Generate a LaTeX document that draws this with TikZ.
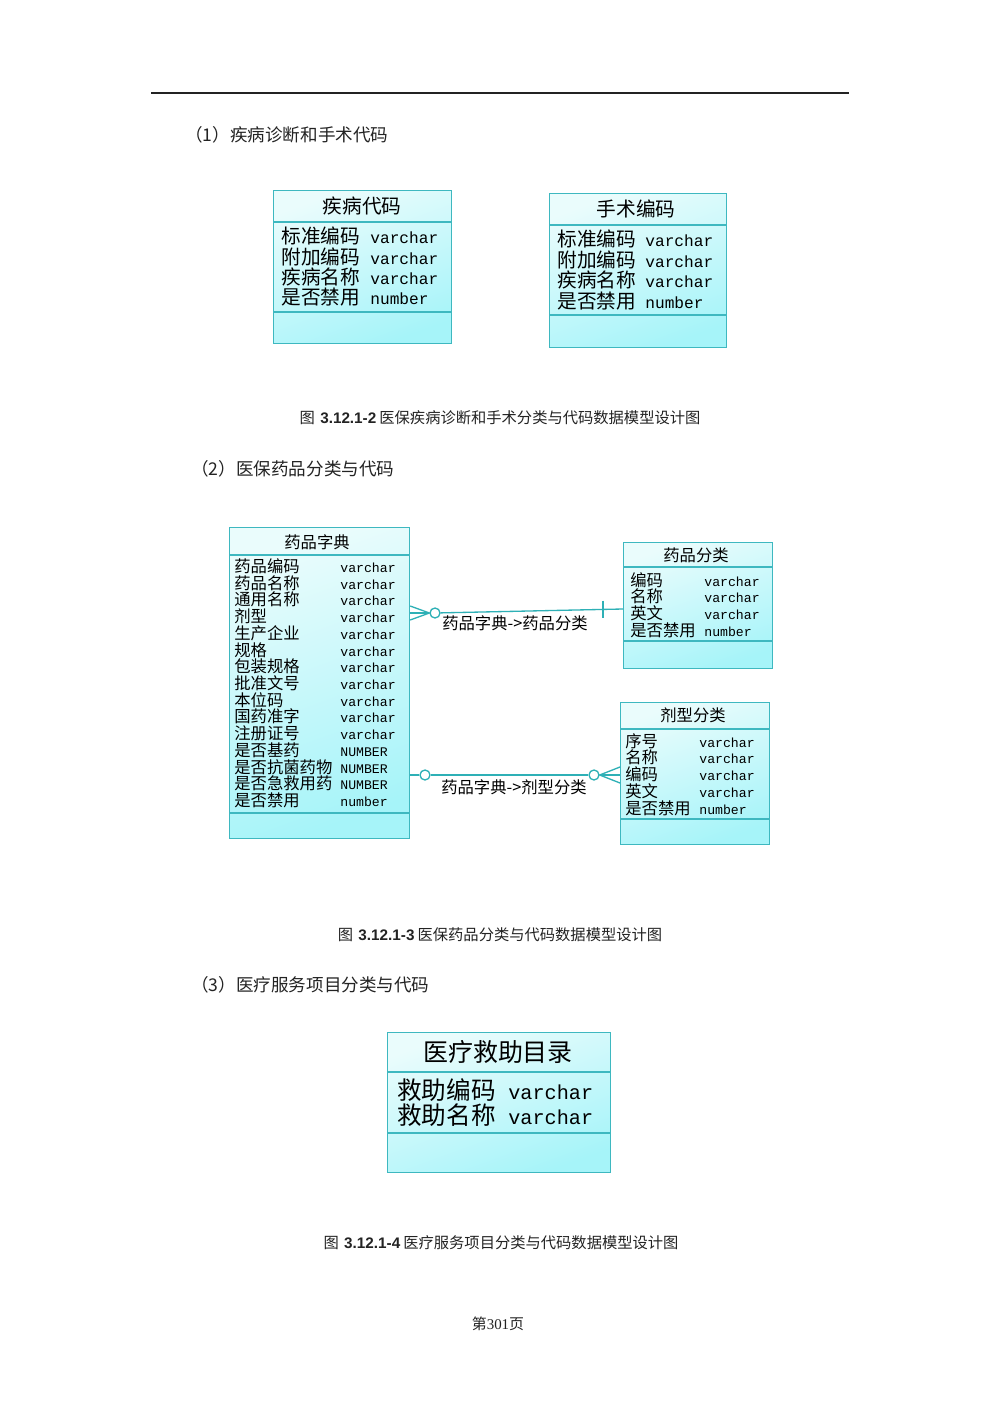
\documentclass[tikz,border=0pt]{standalone}
\usepackage{fontspec}
\setmainfont{Liberation Serif}
\newfontfamily\cjk{Noto Sans CJK SC}
\newfontfamily\mono{Liberation Mono}
\newfontfamily\arial{Liberation Sans}
\usepackage{tikz}

\definecolor{tblline}{RGB}{62,184,192}
\definecolor{tbltop}{RGB}{234,252,252}
\definecolor{tblbot}{RGB}{166,244,249}
\definecolor{relline}{RGB}{46,176,182}
\definecolor{pagetext}{RGB}{35,35,35}

\begin{document}
\begin{tikzpicture}[
        x=0.02cm, y=-0.02cm,
        entity/.style={rectangle, draw=tblline, line width=0.7pt, anchor=north west, inner sep=0pt,
                       top color=tbltop, bottom color=tblbot, shading angle=20},
        divider/.style={draw=tblline, line width=0.7pt},
        title/.style={inner sep=0pt, text=black, font=\cjk\fontsize{#1}{#1}\selectfont},
        field/.style={anchor=base west, inner sep=0pt, text=black, font=\cjk\fontsize{#1}{#1}\selectfont},
        dtype/.style={anchor=base west, inner sep=0pt, text=black, font=\mono\fontsize{#1}{#1}\selectfont},
        rel/.style={draw=relline, line width=0.75pt},
        ring/.style={circle, draw=relline, line width=0.75pt, fill=white, minimum size=0.2cm, inner sep=0pt},
        rellabel/.style={inner sep=0pt, text=black, font=\cjk\fontsize{9.3}{9.3}\selectfont},
        heading/.style={anchor=west, inner sep=0pt, text=pagetext, font=\cjk\fontsize{10}{12}\selectfont},
        caption/.style={inner sep=0pt, text=pagetext, font=\cjk\fontsize{8.7}{10}\selectfont},
        rule/.style={draw=pagetext, line width=1.1pt}
    ]

    \path[use as bounding box, fill=white] (0,0) rectangle (1000,1415);

    %page header
    \draw[rule] (151,93) -- (849,93);

    %section 1
    \node[heading] (head1) at (185,135) {（1）疾病诊断和手术代码};

    \node[entity, minimum width=3.56cm, minimum height=3.06cm] (disease) at (273,190) {};
    \draw[divider] (disease.west |- 0,222) -- (disease.east |- 0,222);
    \draw[divider] (disease.west |- 0,312) -- (disease.east |- 0,312);
    \node[title=11.2] (disease_t) at (362,206) {疾病代码};
    \foreach \fn/\ty [count=\i] in {标准编码/varchar, 附加编码/varchar, 疾病名称/varchar, 是否禁用/number} {
        \node[field=11.2] (disease_f\i) at (281,{244+20.33*(\i-1)}) {\fn};
        \node[dtype=9.2]  (disease_d\i) at (370,{244+20.33*(\i-1)}) {\ty};
    }

    \node[entity, minimum width=3.54cm, minimum height=3.08cm] (surgery) at (549,193) {};
    \draw[divider] (surgery.west |- 0,225) -- (surgery.east |- 0,225);
    \draw[divider] (surgery.west |- 0,315) -- (surgery.east |- 0,315);
    \node[title=11.2] (surgery_t) at (636,209) {手术编码};
    \foreach \fn/\ty [count=\i] in {标准编码/varchar, 附加编码/varchar, 疾病名称/varchar, 是否禁用/number} {
        \node[field=11.2] (surgery_f\i) at (557,{247+20.5*(\i-1)}) {\fn};
        \node[dtype=9.2]  (surgery_d\i) at (645,{247+20.5*(\i-1)}) {\ty};
    }

    \node[caption] (cap1) at (500,418) {图\hspace{0.35em}{\arial\bfseries 3.12.1-2}\hspace{0.2em}医保疾病诊断和手术分类与代码数据模型设计图};

    %section 2
    \node[heading] (head2) at (191,469) {（2）医保药品分类与代码};

    \node[entity, minimum width=3.6cm, minimum height=6.22cm] (drug_dict) at (229,527) {};
    \draw[divider] (drug_dict.west |- 0,555) -- (drug_dict.east |- 0,555);
    \draw[divider] (drug_dict.west |- 0,813) -- (drug_dict.east |- 0,813);
    \node[title=9.3] (drug_dict_t) at (317,542) {药品字典};
    \foreach \fn/\ty [count=\i] in {药品编码/varchar, 药品名称/varchar, 通用名称/varchar, 剂型/varchar,
            生产企业/varchar, 规格/varchar, 包装规格/varchar, 批准文号/varchar, 本位码/varchar,
            国药准字/varchar, 注册证号/varchar, 是否基药/NUMBER, 是否抗菌药物/NUMBER,
            是否急救用药/NUMBER, 是否禁用/number} {
        \node[field=9.3] (drug_dict_f\i) at (234,{572.4+16.72*(\i-1)}) {\fn};
        \node[dtype=7.5] (drug_dict_d\i) at (340,{572.4+16.72*(\i-1)}) {\ty};
    }

    \node[entity, minimum width=2.98cm, minimum height=2.52cm] (drug_class) at (623,542) {};
    \draw[divider] (drug_class.west |- 0,567) -- (drug_class.east |- 0,567);
    \draw[divider] (drug_class.west |- 0,641) -- (drug_class.east |- 0,641);
    \node[title=9.3] (drug_class_t) at (696,555) {药品分类};
    \foreach \fn/\ty [count=\i] in {编码/varchar, 名称/varchar, 英文/varchar, 是否禁用/number} {
        \node[field=9.3] (drug_class_f\i) at (630,{586+16.67*(\i-1)}) {\fn};
        \node[dtype=7.5] (drug_class_d\i) at (704,{586+16.67*(\i-1)}) {\ty};
    }

    \node[entity, minimum width=2.98cm, minimum height=2.84cm] (form_class) at (620,702) {};
    \draw[divider] (form_class.west |- 0,729) -- (form_class.east |- 0,729);
    \draw[divider] (form_class.west |- 0,819) -- (form_class.east |- 0,819);
    \node[title=9.3] (form_class_t) at (693,715) {剂型分类};
    \foreach \fn/\ty [count=\i] in {序号/varchar, 名称/varchar, 编码/varchar, 英文/varchar, 是否禁用/number} {
        \node[field=9.3] (form_class_f\i) at (625,{747+16.75*(\i-1)}) {\fn};
        \node[dtype=7.5] (form_class_d\i) at (699,{747+16.75*(\i-1)}) {\ty};
    }

    %relation drug_dict -> drug_class
    \node[ring] (r1_ring) at (435,613) {};
    \coordinate (r1_bar) at (603,609);
    \draw[rel] (drug_dict.east |- r1_ring) -- (r1_ring);
    \draw[rel] (drug_dict.east |- 0,606) -- (r1_ring.west) -- (drug_dict.east |- 0,620);
    \draw[rel] (r1_ring) -- (drug_class.west |- r1_bar);
    \draw[rel] ([yshift=0.17cm]r1_bar) -- ([yshift=-0.17cm]r1_bar);
    \node[rellabel] (r1_label) at (515,623) {药品字典->药品分类};

    %relation drug_dict -> form_class
    \node[ring] (r2_ring_a) at (425,775) {};
    \node[ring] (r2_ring_b) at (594,775) {};
    \draw[rel] (drug_dict.east |- r2_ring_a) -- (r2_ring_a) -- (r2_ring_b);
    \draw[rel] (form_class.west |- 0,767) -- (r2_ring_b.east) -- (form_class.west |- 0,783);
    \draw[rel] (r2_ring_b.east) -- (form_class.west |- r2_ring_b);
    \node[rellabel] (r2_label) at (514,787) {药品字典->剂型分类};

    \node[caption] (cap2) at (500,935) {图\hspace{0.35em}{\arial\bfseries 3.12.1-3}\hspace{0.2em}医保药品分类与代码数据模型设计图};

    %section 3
    \node[heading] (head3) at (191,985) {（3）医疗服务项目分类与代码};

    \node[entity, minimum width=4.46cm, minimum height=2.8cm] (aid_list) at (387,1032) {};
    \draw[divider] (aid_list.west |- 0,1072) -- (aid_list.east |- 0,1072);
    \draw[divider] (aid_list.west |- 0,1133) -- (aid_list.east |- 0,1133);
    \node[title=14.2] (aid_list_t) at (498,1052) {医疗救助目录};
    \foreach \fn/\ty [count=\i] in {救助编码/varchar, 救助名称/varchar} {
        \node[field=14] (aid_list_f\i) at (397,{1099+25*(\i-1)}) {\fn};
        \node[dtype=11.5] (aid_list_d\i) at (508,{1099+25*(\i-1)}) {\ty};
    }

    \node[caption] (cap3) at (501,1243) {图\hspace{0.35em}{\arial\bfseries 3.12.1-4}\hspace{0.2em}医疗服务项目分类与代码数据模型设计图};

    %page number
    \node[caption, font=\fontsize{8.5}{10}\selectfont] (page_no) at (498,1324) {{\cjk 第}301{\cjk 页}};

\end{tikzpicture}
\end{document}
